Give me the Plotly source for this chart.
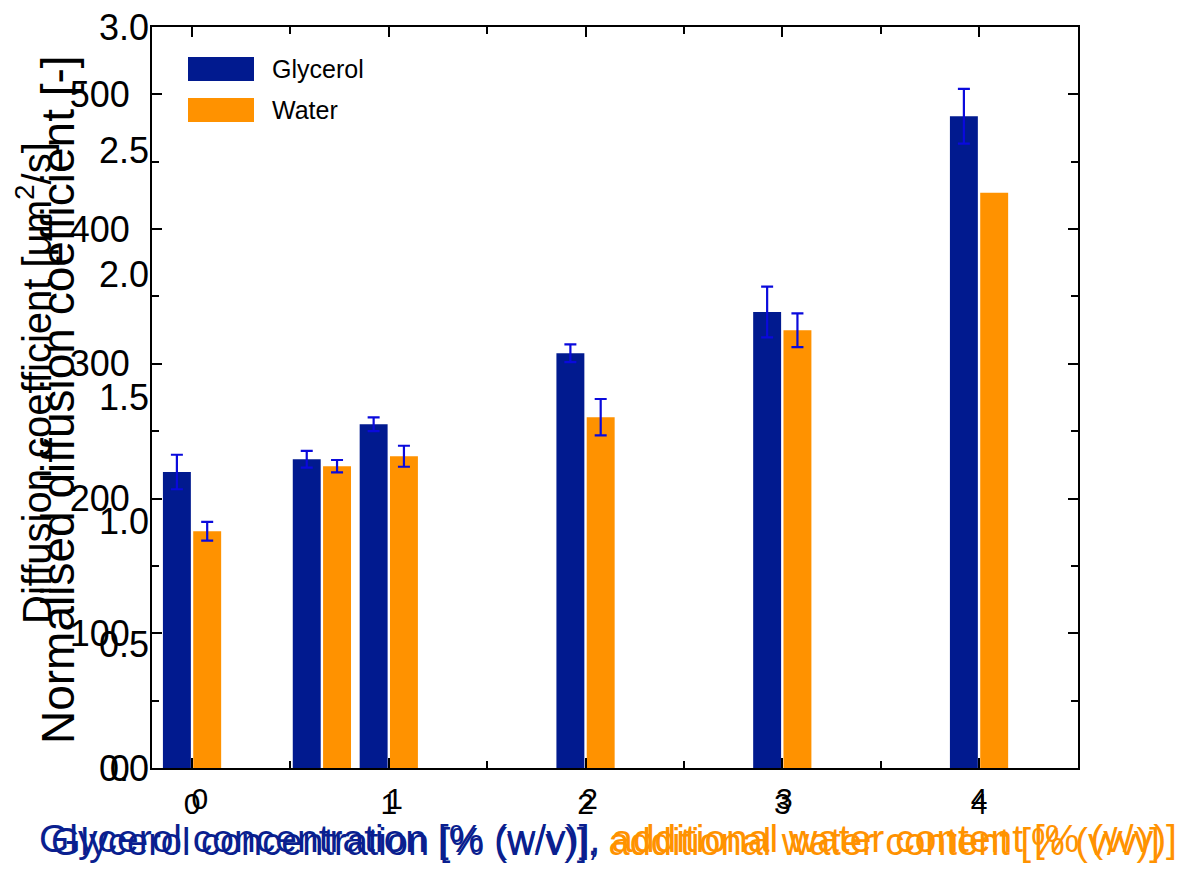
import numpy as np
import plotly.graph_objects as go

# ---------------- data ----------------
positions = [0, 0.66, 1, 2, 3, 4]          # glycerol / water content [%]
glycerol = [219.7, 229.2, 255.2, 307.9, 338.5, 483.8]
glycerol_err = [12.8, 6.2, 5.1, 6.6, 18.8, 20.3]
water = [175.7, 224.0, 231.4, 260.4, 324.9, 426.9]
water_err = [7.0, 4.6, 7.8, 13.5, 12.5, np.nan]

series_names = ["Glycerol", "Water"]
diff_range = [0, 550]        # Diffusion coefficient [um^2/s]
norm_range = [0, 3.0]        # Normalised diffusion coefficient [-]

# ---------------- style ----------------
NAVY = "#011A8F"
ORANGE = "#FF9200"
ERR = "#0A0ADC"
FONT = "Liberation Sans, Arial, sans-serif"

OFF = 8                      # default page margin of the html body
W, H = 1189 - 2 * OFF, 873 - 2 * OFF
# plot-area edges in reference (window) pixels
L, R, T, B = 152, 1078, 27, 768
PW, PH = R - L, B - T


def px(xp):
    return (xp - L) / PW


def py(yp):
    return (B - yp) / PH


fig = go.Figure()

bar_w = 0.142
fig.add_trace(go.Bar(
    x=positions, y=glycerol, name=series_names[0],
    width=bar_w, offset=-0.148,
    marker=dict(color=NAVY, line=dict(width=0)),
    error_y=dict(type="data", array=np.array(glycerol_err, dtype=float),
                 color=ERR, thickness=2.2, width=6),
    showlegend=False,
))
fig.add_trace(go.Bar(
    x=positions, y=water, name=series_names[1],
    width=bar_w, offset=0.006,
    marker=dict(color=ORANGE, line=dict(width=0)),
    error_y=dict(type="data", array=np.array(water_err, dtype=float),
                 color=ERR, thickness=2.2, width=6),
    showlegend=False,
))
# placeholder trace so the overlaid normalised axis / doubled x labels exist
fig.add_trace(go.Scatter(x=[], y=[], xaxis="x2", yaxis="y2",
                         showlegend=False, hoverinfo="skip"))

axis_common = dict(showgrid=False, zeroline=False, ticklabeloverflow="allow")

fig.update_layout(
    width=W, height=H,
    margin=dict(l=L - OFF, r=W - (R - OFF), t=T - OFF, b=H - (B - OFF),
                autoexpand=False),
    paper_bgcolor="white", plot_bgcolor="white",
    barmode="overlay",
    font=dict(family=FONT, color="black"),
    xaxis=dict(
        **axis_common,
        range=[-0.2035, 4.503],
        tickmode="linear", tick0=0, dtick=1,
        ticks="inside", ticklen=10, tickwidth=2, tickcolor="black",
        minor=dict(tickmode="linear", tick0=0, dtick=0.5, ticks="inside",
                   ticklen=7, tickwidth=2, tickcolor="black"),
        showline=True, linecolor="black", linewidth=2, mirror="ticks",
        tickfont=dict(size=30, family=FONT, color="black"),
        ticklabelstandoff=8,
    ),
    xaxis2=dict(
        **axis_common,
        overlaying="x", anchor="y", side="bottom",
        range=[-0.246, 4.508],
        tickmode="linear", tick0=0, dtick=1,
        ticks="", showline=False,
        tickfont=dict(size=30, family=FONT, color="black"),
        ticklabelstandoff=10,
    ),
    yaxis=dict(
        **axis_common,
        range=diff_range,
        tickmode="linear", tick0=0, dtick=100,
        ticks="inside", ticklen=10, tickwidth=2, tickcolor="black",
        minor=dict(tickmode="linear", tick0=0, dtick=50, ticks="inside",
                   ticklen=7, tickwidth=2, tickcolor="black"),
        showline=True, linecolor="black", linewidth=2, mirror="ticks",
        tickfont=dict(size=36, family=FONT, color="black"),
        ticklabelstandoff=13,
    ),
    yaxis2=dict(
        **axis_common,
        overlaying="y", anchor="x", side="left",
        range=norm_range,
        tickmode="linear", tick0=0, dtick=0.5, tickformat=".1f",
        ticks="", showline=False,
        tickfont=dict(size=36, family=FONT, color="black"),
        ticklabelstandoff=2,
    ),
)

# ---------------- axis titles ----------------
annotations = [
    dict(text="Normalised diffusion coefficient [-]", textangle=-90,
         xref="paper", yref="paper", x=px(58), y=py(400),
         xanchor="center", yanchor="middle", showarrow=False,
         font=dict(size=46, family=FONT, color="black")),
    dict(text="Diffusion coefficient [μm<sup>2</sup>/s]", textangle=-90,
         xref="paper", yref="paper", x=px(34), y=py(383),
         xanchor="center", yanchor="middle", showarrow=False,
         font=dict(size=40, family=FONT, color="black")),
]

xtitle = ('<span style="color:#0A1F8F">Glycerol concentration [% (w/v)], </span>'
          '<span style="color:#FF9200">additional water content [% (v/v)]</span>')
for cx, cy, fs in [(608, 839, 39), (605, 842, 38)]:
    annotations.append(dict(
        text=xtitle, xref="paper", yref="paper", x=px(cx), y=py(cy),
        xanchor="center", yanchor="middle", showarrow=False,
        font=dict(size=fs, family=FONT)))

# ---------------- legend (drawn manually for the wide swatches) -------------
legend_rows = [(series_names[0], NAVY, 57, 81), (series_names[1], ORANGE, 98, 122)]
shapes = []
for name, col, y0, y1 in legend_rows:
    shapes.append(dict(type="rect", xref="paper", yref="paper",
                       x0=px(188), x1=px(254), y0=py(y1), y1=py(y0),
                       fillcolor=col, line=dict(width=0)))
    annotations.append(dict(text=name, xref="paper", yref="paper",
                            x=px(270), y=py((y0 + y1) / 2),
                            xanchor="left", yanchor="middle", showarrow=False,
                            font=dict(size=25, family=FONT, color="black")))

fig.update_layout(annotations=annotations, shapes=shapes)

fig.write_html("out.html")
